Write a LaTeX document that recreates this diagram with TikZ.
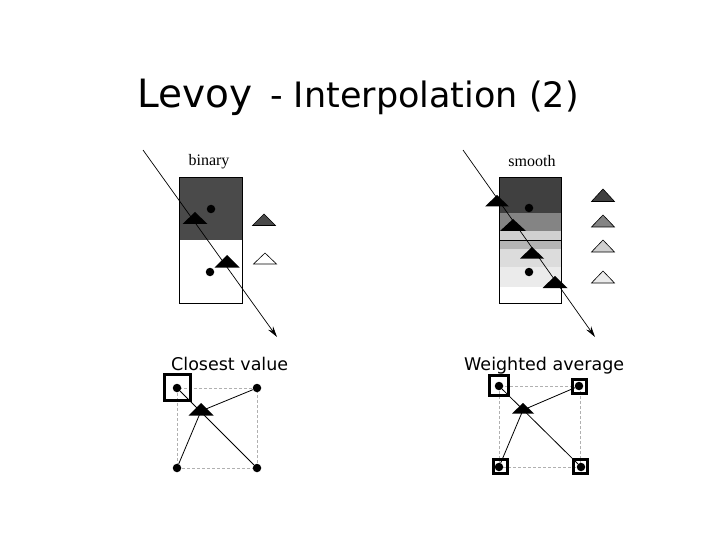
\documentclass[tikz,border=0pt]{standalone}
\usepackage{fontspec}
\setmainfont{DejaVu Sans}
\newfontfamily\captfont{Liberation Serif}
\usetikzlibrary{arrows.meta}
\definecolor{darkcell}{HTML}{4A4A4A}
\definecolor{bandA}{HTML}{404040}
\definecolor{bandB}{HTML}{848484}
\definecolor{bandC}{HTML}{D0D0D0}
\definecolor{bandD}{HTML}{B4B4B4}
\definecolor{bandE}{HTML}{DCDCDC}
\definecolor{bandF}{HTML}{EBEBEB}
\definecolor{gridgray}{HTML}{B0B0B0}
\begin{document}
\begin{tikzpicture}[x=1pt,y=-1pt,
  sampledot/.style={circle,fill=black,inner sep=0pt,minimum size=8.5pt},
  ray/.style={draw=black,line width=0.7pt,-{Stealth[length=11pt,width=6pt]}},
  cellbox/.style={draw=black,line width=0.6pt},
  blacktri/.style={fill=black},
  outlinetri/.style={draw=black,line width=0.6pt},
  cellgrid/.style={draw=gridgray,dash pattern=on 3pt off 2pt,line width=0.6pt},
  selbox/.style={rectangle,draw=black,line width=3pt,inner sep=0pt},
  link/.style={draw=black,line width=0.8pt}]
\useasboundingbox (0,0) rectangle (720,540);

% title
\node[anchor=base west,inner sep=0pt,font=\fontsize{39}{44}\selectfont] (t1) at (137,108) {Levoy};
\node[anchor=base west,inner sep=0pt,font=\fontsize{35}{40}\selectfont] (t2) at (270,108) {- Interpolation (2)};

% ---------- binary panel ----------
\node[font=\captfont\fontsize{16}{18}\selectfont] (cap1) at (209,162) {binary};
\fill[darkcell] (179,177) rectangle (242,240);
\draw[cellbox] (179,177) rectangle (242,303);
\coordinate (r1s) at (143,150);
\coordinate (r1e) at (277,337);
\draw[ray] (r1s) -- (r1e);
\path[blacktri] (195,212) -- ++(-12.5,12) -- ++(25,0) -- cycle;
\path[blacktri] (227,255) -- ++(-12.5,12.5) -- ++(25,0) -- cycle;
\node[sampledot] (b1) at (211,209) {};
\node[sampledot] (b2) at (210,272) {};
\path[outlinetri,fill=darkcell] (264,214) -- ++(-11.5,11.5) -- ++(23,0) -- cycle;
\path[outlinetri,fill=white] (265,253) -- ++(-11.5,11) -- ++(23,0) -- cycle;

% ---------- smooth panel ----------
\node[font=\captfont\fontsize{16}{18}\selectfont] (cap2) at (532,161) {smooth};
\fill[bandA] (499,177) rectangle (561,213);
\fill[bandB] (499,213) rectangle (561,231);
\fill[bandC] (499,231) rectangle (561,240);
\fill[bandD] (499,240) rectangle (561,249);
\fill[bandE] (499,249) rectangle (561,267);
\fill[bandF] (499,267) rectangle (561,287);
\draw[cellbox] (499,177) rectangle (561,303);
\draw[cellbox] (499,240) -- (561,240);
\coordinate (r2s) at (463,150);
\coordinate (r2e) at (595,337);
\draw[ray] (r2s) -- (r2e);
\path[blacktri] (497,195) -- ++(-12,11.5) -- ++(24,0) -- cycle;
\path[blacktri] (513,219) -- ++(-13,12) -- ++(26,0) -- cycle;
\path[blacktri] (532,247) -- ++(-12,11.5) -- ++(24,0) -- cycle;
\path[blacktri] (555,276) -- ++(-12.5,12) -- ++(25,0) -- cycle;
\node[sampledot] (s1) at (529,208) {};
\node[sampledot] (s2) at (529,272) {};
\path[outlinetri,fill=bandA] (603,189) -- ++(-11.5,12.5) -- ++(23,0) -- cycle;
\path[outlinetri,fill=bandB] (603,215) -- ++(-11.5,12) -- ++(23,0) -- cycle;
\path[outlinetri,fill=bandC] (603,240) -- ++(-11.5,12) -- ++(23,0) -- cycle;
\path[outlinetri,fill=bandF] (603,271) -- ++(-11.5,12) -- ++(23,0) -- cycle;

% ---------- labels ----------
\node[anchor=base west,inner sep=0pt,font=\fontsize{17.5}{20}\selectfont] (lab1) at (171,370) {Closest value};
\node[anchor=base west,inner sep=0pt,font=\fontsize{17.5}{20}\selectfont] (lab2) at (464,370) {Weighted average};

% ---------- closest value ----------
\draw[cellgrid] (177,388) rectangle (257,468);
\node[sampledot] (c1) at (177,388) {};
\node[sampledot] (c2) at (257,388) {};
\node[sampledot] (c3) at (177,468) {};
\node[sampledot] (c4) at (257,468) {};
\node[selbox,minimum size=26pt] (csel) at (177.5,387.5) {};
\coordinate (ct) at (201,411);
\draw[link] (c1) -- (c4);
\draw[link] (ct) -- (c2);
\draw[link] (ct) -- (c3);
\path[blacktri] (201,403) -- ++(-12.5,12.5) -- ++(25,0) -- cycle;

% ---------- weighted average ----------
\draw[cellgrid] (499,386) rectangle (580,467);
\node[sampledot] (w1) at (499,386) {};
\node[sampledot] (w2) at (579,386) {};
\node[sampledot] (w3) at (499,467) {};
\node[sampledot] (w4) at (581,467) {};
\node[selbox,minimum size=19.5pt] (ws1) at (499,385.5) {};
\node[selbox,minimum size=14pt] (ws2) at (579,386.5) {};
\node[selbox,minimum size=14pt] (ws3) at (500,466.5) {};
\node[selbox,minimum size=14pt] (ws4) at (580.5,466.5) {};
\coordinate (wt) at (523,410);
\draw[link] (w1) -- (w4);
\draw[link] (wt) -- (w2);
\draw[link] (wt) -- (w3);
\path[blacktri] (523,403) -- ++(-11,10.5) -- ++(22,0) -- cycle;
\end{tikzpicture}
\end{document}
